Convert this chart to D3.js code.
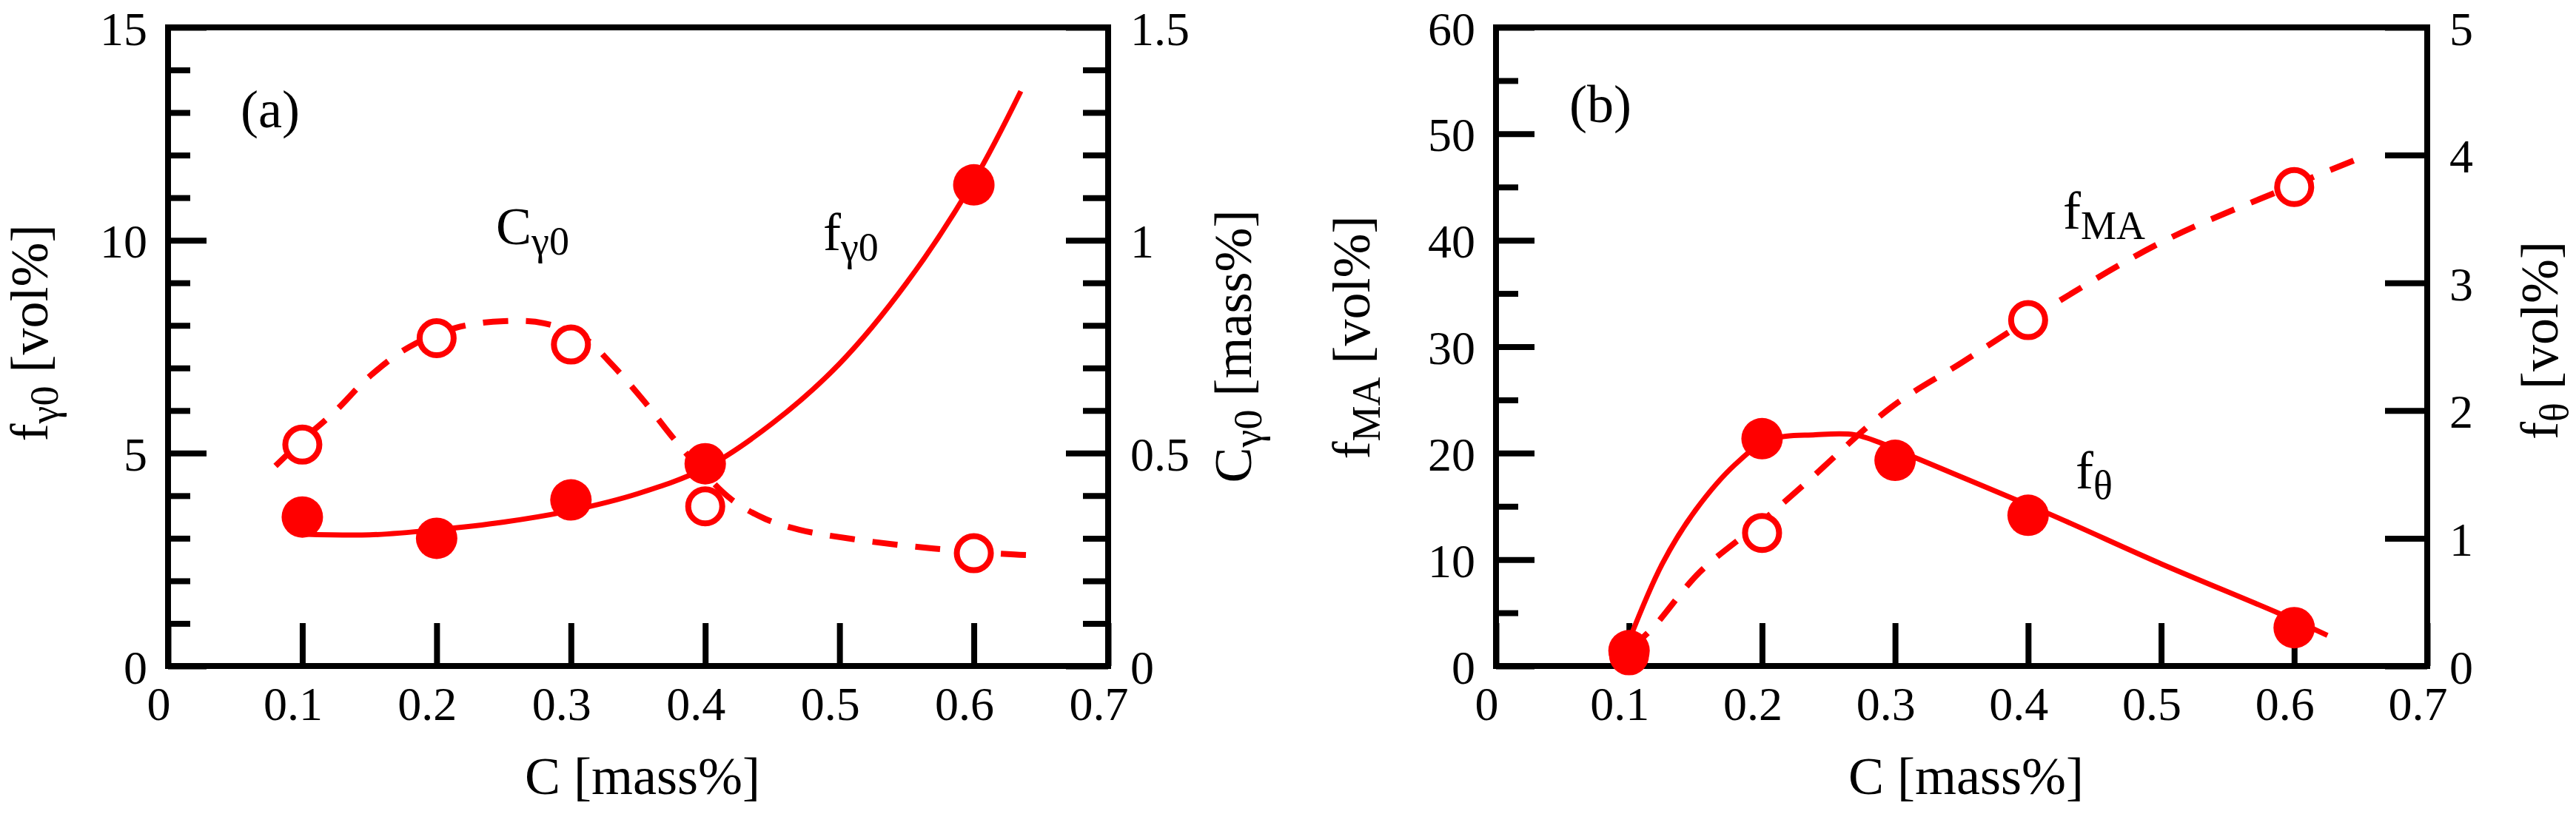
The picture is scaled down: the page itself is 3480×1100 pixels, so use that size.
<!DOCTYPE html>
<html>
<head>
<meta charset="utf-8">
<script src="https://cdn.jsdelivr.net/npm/d3@7"></script>
<style>
  body { margin: 0; background: #fff; }
  text { font-family: "Liberation Serif", "Times New Roman", serif; fill: #000; }
</style>
</head>
<body>
<svg id="chart" width="3480" height="1100"></svg>
<script>
// ---- data ----
const xTicks = [0, 0.1, 0.2, 0.3, 0.4, 0.5, 0.6, 0.7];

// panel (a)
const carbonA = [0.1, 0.2, 0.3, 0.4, 0.6];
const fGamma0 = [3.5, 3.0, 3.9, 4.75, 11.3];        // vol%, left axis
const cGamma0 = [0.52, 0.77, 0.755, 0.375, 0.265];  // mass%, right axis
// fitted curves (traced)
const fGammaFitC = [0.1, 0.15, 0.2, 0.25, 0.3, 0.35, 0.4, 0.45, 0.5, 0.55, 0.6, 0.635];
const fGammaFitV = [3.1, 3.08, 3.2, 3.38, 3.65, 4.05, 4.65, 5.7, 7.1, 9.0, 11.4, 13.5];
const cGammaFitC = [0.08, 0.1, 0.125, 0.15, 0.18, 0.215, 0.25, 0.28, 0.31, 0.33, 0.355, 0.375, 0.4, 0.42, 0.445, 0.47, 0.51, 0.57, 0.63, 0.645];
const cGammaFitV = [0.47, 0.53, 0.6, 0.68, 0.75, 0.795, 0.81, 0.805, 0.77, 0.71, 0.62, 0.54, 0.45, 0.39, 0.345, 0.32, 0.298, 0.276, 0.262, 0.26];

// panel (b)
const carbonMA = [0.1, 0.2, 0.4, 0.6];
const fMA = [1.0, 12.5, 32.5, 45.0];                // vol%, left axis
const carbonTheta = [0.1, 0.2, 0.3, 0.4, 0.6];
const fTheta = [0.12, 1.78, 1.61, 1.18, 0.3];       // vol%, right axis
const fMAFitC = [0.1, 0.118, 0.153, 0.2, 0.233, 0.297, 0.35, 0.4, 0.5, 0.6, 0.655];
const fMAFitV = [1.5, 3.6, 8.8, 13.6, 17.2, 24.3, 28.5, 32.5, 39.8, 45.2, 48.0];
const fThetaFitC = [0.1, 0.125, 0.15, 0.18, 0.205, 0.24, 0.27, 0.3, 0.311, 0.416, 0.5, 0.589, 0.625];
const fThetaFitV = [0.2, 0.8, 1.22, 1.58, 1.77, 1.81, 1.81, 1.7, 1.65, 1.19, 0.8, 0.41, 0.24];

const RED = "#ff0000";
const svg = d3.select("#chart");

const zip = (xs, ys) => xs.map((x, i) => [x, ys[i]]);
const plain = d => String(+d.toFixed(3));

function range(a, b, step) {
  const out = [];
  for (let v = a; v <= b + 1e-9; v += step) out.push(+v.toFixed(4));
  return out;
}

// text with a subscript part: main + sub + rest
function richText(sel, main, sub, rest, size) {
  sel.style("font-size", size + "px");
  sel.append("tspan").text(main);
  sel.append("tspan").attr("dy", size * 0.2).style("font-size", (size * 0.75) + "px").text(sub);
  if (rest) sel.append("tspan").attr("dy", -size * 0.2).text(rest);
  return sel;
}

function drawPanel(p) {
  const x = d3.scaleLinear().domain([0, 0.7]).range([p.left, p.right]);
  const yL = d3.scaleLinear().domain([0, p.leftMax]).range([900, 37]);
  const yR = d3.scaleLinear().domain([0, p.rightMax]).range([900, 37]);
  const g = svg.append("g");

  const styleAxis = (sel) => {
    sel.select(".domain").remove();
    sel.selectAll(".tick line").attr("stroke", "#000").attr("stroke-width", 8);
    sel.selectAll(".tick text").style("font-size", "64px")
      .style("font-family", '"Liberation Serif", "Times New Roman", serif');
  };

  // x axis
  g.append("g").attr("transform", "translate(0,900)")
    .call(d3.axisBottom(x).tickValues(xTicks).tickSize(-58).tickPadding(28).tickFormat(plain))
    .call(styleAxis)
    .selectAll(".tick text").attr("dx", -13);

  // left axis
  g.append("g").attr("transform", `translate(${p.left},0)`)
    .call(d3.axisLeft(yL).tickValues(p.leftMajor).tickSize(-52).tickPadding(28).tickFormat(plain))
    .call(styleAxis)
    .selectAll(".tick text").attr("dy", "0.36em");
  g.append("g").attr("transform", `translate(${p.left},0)`)
    .call(d3.axisLeft(yL).tickValues(p.leftMinor).tickSize(-30).tickFormat(""))
    .call(styleAxis);

  // right axis
  g.append("g").attr("transform", `translate(${p.right},0)`)
    .call(d3.axisRight(yR).tickValues(p.rightMajor).tickSize(-57).tickPadding(30).tickFormat(plain))
    .call(styleAxis)
    .selectAll(".tick text").attr("dy", "0.36em");
  if (p.rightMinor.length) {
    g.append("g").attr("transform", `translate(${p.right},0)`)
      .call(d3.axisRight(yR).tickValues(p.rightMinor).tickSize(-34).tickFormat(""))
      .call(styleAxis);
  }

  // frame
  g.append("rect")
    .attr("x", p.left).attr("y", 37)
    .attr("width", p.right - p.left).attr("height", 863)
    .attr("fill", "none").attr("stroke", "#000").attr("stroke-width", 8);

  const lineL = d3.line().x(d => x(d[0])).y(d => yL(d[1])).curve(d3.curveCatmullRom);
  const lineR = d3.line().x(d => x(d[0])).y(d => yR(d[1])).curve(d3.curveCatmullRom);

  // dashed fit (open-circle series)
  const openScale = p.openSide === "left" ? yL : yR;
  const openLine = p.openSide === "left" ? lineL : lineR;
  g.append("path").attr("d", openLine(p.openFit))
    .attr("fill", "none").attr("stroke", RED).attr("stroke-width", 8)
    .attr("stroke-dasharray", "34,24");

  g.selectAll(".open").data(p.openPts).join("circle")
    .attr("cx", d => x(d[0])).attr("cy", d => openScale(d[1])).attr("r", 23)
    .attr("fill", "#fff").attr("stroke", RED).attr("stroke-width", 8);

  // solid fit (filled series)
  const fillScale = p.fillSide === "left" ? yL : yR;
  const fillLine = p.fillSide === "left" ? lineL : lineR;
  g.append("path").attr("d", fillLine(p.fillFit))
    .attr("fill", "none").attr("stroke", RED).attr("stroke-width", 7);

  g.selectAll(".filled").data(p.fillPts).join("circle")
    .attr("cx", d => x(d[0])).attr("cy", d => fillScale(d[1])).attr("r", 28)
    .attr("fill", RED);

  // axis titles
  g.append("text").attr("x", (p.left + p.right) / 2 + 6).attr("y", 1073)
    .attr("text-anchor", "middle").style("font-size", "72px").text("C [mass%]");

  richText(g.append("text")
      .attr("transform", `translate(${p.leftTitle.x},${p.leftTitle.y}) rotate(-90)`)
      .attr("text-anchor", "middle"), p.leftTitle.main, p.leftTitle.sub, " [vol%]", 72);
  richText(g.append("text")
      .attr("transform", `translate(${p.rightTitle.x},${p.rightTitle.y}) rotate(-90)`)
      .attr("text-anchor", "middle"), p.rightTitle.main, p.rightTitle.sub, p.rightTitle.rest, 72);

  // in-plot labels
  g.append("text").attr("x", p.tag.x).attr("y", p.tag.y).style("font-size", "72px").text(p.tag.text);
  p.notes.forEach(n => {
    richText(g.append("text").attr("x", n.x).attr("y", n.y), n.main, n.sub, null, 72);
  });
}

drawPanel({
  left: 227, right: 1497,
  leftMax: 15, rightMax: 1.5,
  leftMajor: [0, 5, 10, 15],
  leftMinor: range(1, 14, 1).filter(v => v % 5 !== 0),
  rightMajor: [0, 0.5, 1, 1.5],
  rightMinor: range(0.1, 1.4, 0.1).filter(v => Math.abs(v - 0.5) > 1e-6 && Math.abs(v - 1) > 1e-6),
  openSide: "right", openPts: zip(carbonA, cGamma0), openFit: zip(cGammaFitC, cGammaFitV),
  fillSide: "left", fillPts: zip(carbonA, fGamma0), fillFit: zip(fGammaFitC, fGammaFitV),
  leftTitle: { x: 64, y: 450, main: "f", sub: "γ0" },
  rightTitle: { x: 1690, y: 468, main: "C", sub: "γ0", rest: " [mass%]" },
  tag: { x: 325, y: 172, text: "(a)" },
  notes: [
    { x: 670, y: 330, main: "C", sub: "γ0" },
    { x: 1112, y: 338, main: "f", sub: "γ0" }
  ]
});

drawPanel({
  left: 2021, right: 3279,
  leftMax: 60, rightMax: 5,
  leftMajor: range(0, 60, 10),
  leftMinor: range(5, 55, 10),
  rightMajor: range(0, 5, 1),
  rightMinor: [],
  openSide: "left", openPts: zip(carbonMA, fMA), openFit: zip(fMAFitC, fMAFitV),
  fillSide: "right", fillPts: zip(carbonTheta, fTheta), fillFit: zip(fThetaFitC, fThetaFitV),
  leftTitle: { x: 1850, y: 456, main: "f", sub: "MA" },
  rightTitle: { x: 3455, y: 460, main: "f", sub: "θ", rest: " [vol%]" },
  tag: { x: 2120, y: 165, text: "(b)" },
  notes: [
    { x: 2787, y: 309, main: "f", sub: "MA" },
    { x: 2804, y: 660, main: "f", sub: "θ" }
  ]
});
</script>
</body>
</html>
